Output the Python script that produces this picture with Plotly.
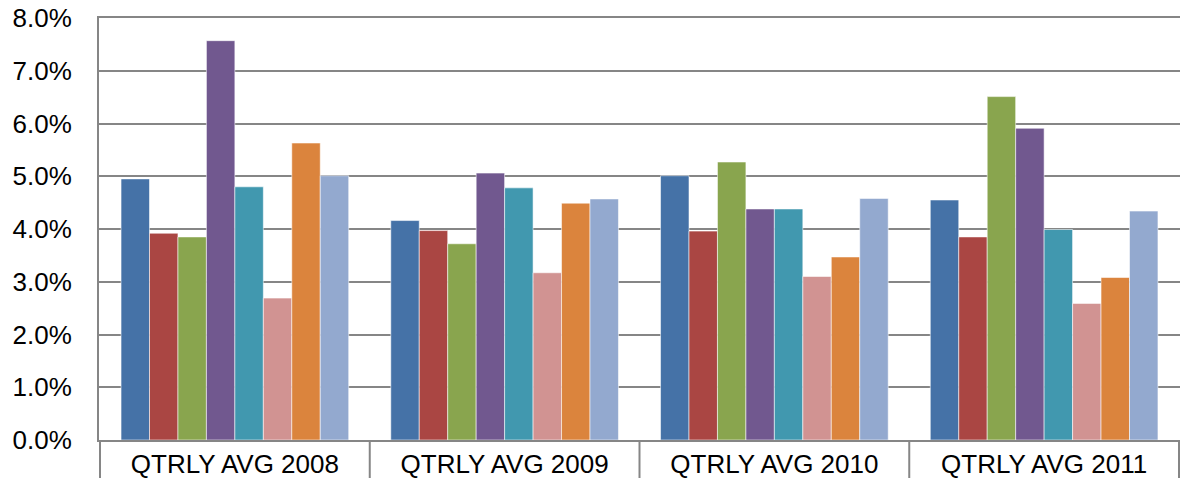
import plotly.graph_objects as go

categories = ["QTRLY AVG 2008", "QTRLY AVG 2009", "QTRLY AVG 2010", "QTRLY AVG 2011"]

series_names = ["Series 1", "Series 2", "Series 3", "Series 4",
                "Series 5", "Series 6", "Series 7", "Series 8"]

s1 = [0.0495, 0.0416, 0.0501, 0.0455]
s2 = [0.0392, 0.0397, 0.0396, 0.0385]
s3 = [0.0385, 0.0372, 0.0527, 0.0651]
s4 = [0.0757, 0.0506, 0.0438, 0.0591]
s5 = [0.0480, 0.0478, 0.0438, 0.0399]
s6 = [0.0269, 0.0317, 0.0310, 0.0259]
s7 = [0.0563, 0.0449, 0.0347, 0.0308]
s8 = [0.0501, 0.0457, 0.0458, 0.0434]

series_values = [s1, s2, s3, s4, s5, s6, s7, s8]
colors = ["#4572A7", "#AA4643", "#89A54E", "#71588F",
          "#4198AF", "#D19392", "#DB843D", "#93A9CF"]

y_ticks = [0.00, 0.01, 0.02, 0.03, 0.04, 0.05, 0.06, 0.07, 0.08]

grid_col = "#868686"
font_family = "Liberation Sans, Arial, sans-serif"

fig = go.Figure()
for name, vals, col in zip(series_names, series_values, colors):
    fig.add_trace(go.Bar(
        x=categories, y=vals, name=name,
        marker=dict(color=col, line=dict(color="rgba(255,255,255,0.55)", width=1)),
    ))

# category separators below the axis
for b in [-0.5, 0.5, 1.5, 2.5, 3.5]:
    fig.add_shape(type="line", xref="x", yref="paper",
                  x0=b, x1=b, y0=0, y1=-0.1,
                  line=dict(color=grid_col, width=2), layer="above")

fig.update_layout(
    width=1181, height=478,
    margin=dict(l=99, r=1, t=18, b=38, autoexpand=False),
    paper_bgcolor="white", plot_bgcolor="white",
    barmode="group", bargap=0.156, bargroupgap=0,
    showlegend=False,
    font=dict(family=font_family, size=26, color="#000000"),
    xaxis=dict(
        showline=True, linecolor=grid_col, linewidth=2, mirror=True,
        showgrid=False, ticks="", ticklabelstandoff=0,
        tickfont=dict(size=26), automargin=False,
    ),
    yaxis=dict(
        range=[0, 0.08], tickvals=y_ticks, tickformat=".1%",
        showgrid=True, gridcolor=grid_col, gridwidth=2,
        showline=True, linecolor=grid_col, linewidth=2,
        zeroline=False, ticks="", ticklabelstandoff=20,
        tickfont=dict(size=26), automargin=False,
        ticklabeloverflow="allow",
    ),
)

# remove the default page margin so the figure sits at the window's top-left corner
fig.write_html(
    "out.html",
    config={"displayModeBar": False},
    post_script="document.body.style.margin='0';document.body.style.overflow='hidden';",
)
